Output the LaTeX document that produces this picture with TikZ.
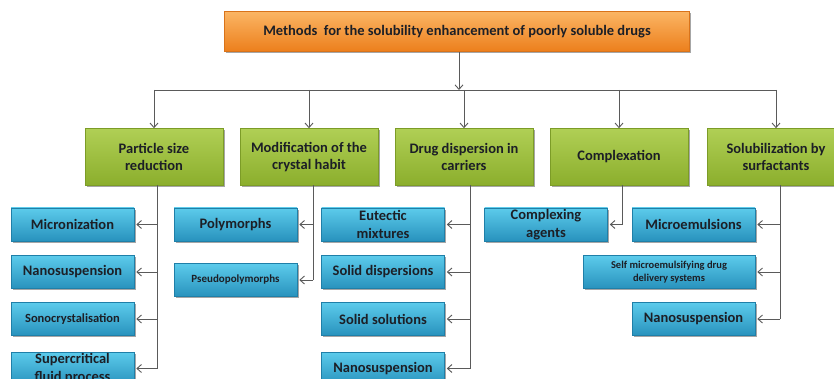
\documentclass[tikz,border=0pt]{standalone}
\usepackage{fontspec}
\setmainfont{Carlito}
\usetikzlibrary{shadows,arrows.meta}

\definecolor{orangetop}{HTML}{FBB564}
\definecolor{orangebot}{HTML}{EC7F1C}
\definecolor{orangeedge}{HTML}{D9731A}
\definecolor{greentop}{HTML}{B0CF55}
\definecolor{greenbot}{HTML}{8BAE2C}
\definecolor{greenedge}{HTML}{7C9C27}
\definecolor{bluetop}{HTML}{5CCBEB}
\definecolor{bluebot}{HTML}{2892BD}
\definecolor{blueedge}{HTML}{1F7FA8}
\definecolor{inkc}{HTML}{1C1F26}
\definecolor{linec}{HTML}{5A5A5A}

\tikzset{
  boxbase/.style={rectangle, align=center, text=inkc, line width=0.6pt,
    font=\bfseries\fontsize{14.5}{17.5}\selectfont,
    drop shadow={shadow xshift=1.6pt, shadow yshift=-1.8pt, fill=black, opacity=0.35}},
  rootbox/.style={boxbase, draw=orangeedge, top color=orangetop, bottom color=orangebot,
    minimum width=465pt, minimum height=40pt},
  methodbox/.style={boxbase, draw=greenedge, top color=greentop, bottom color=greenbot,
    minimum width=138pt, minimum height=57pt, inner sep=1pt},
  itembox/.style={boxbase, draw=blueedge, top color=bluetop, bottom color=bluebot,
    minimum width=123pt, minimum height=33pt, inner sep=1pt},
  link/.style={draw=linec, line width=0.9pt},
  linkarrow/.style={link, -{Straight Barb[length=4.5pt, width=8pt, line width=0.9pt]}},
}

\begin{document}
\begin{tikzpicture}[x=1pt, y=-1pt]
\useasboundingbox[fill=white] (0,0) rectangle (834,379);

% root
\node[rootbox] (root) at (457,31.5) {Methods \ for the solubility enhancement of poorly soluble drugs};

% method categories
\node[methodbox] (m1) at (154,157) {Particle size\\reduction};
\node[methodbox] (m2) at (309,157) {Modification of the\\crystal habit};
\node[methodbox] (m3) at (464,157) {Drug dispersion in\\carriers};
\node[methodbox] (m4) at (619,157) {Complexation};
\node[methodbox] (m5) at (776,157) {Solubilization by\\surfactants};

% particle size reduction
\node[itembox] (a1) at (72.5,224.5) {Micronization};
\node[itembox] (a2) at (72.5,272) {Nanosuspension};
\node[itembox, font=\bfseries\fontsize{12.5}{15}\selectfont] (a3) at (72.5,319) {Sonocrystalisation};
\node[itembox] (a4) at (72.5,368.5) {Supercritical\\fluid process};

% crystal habit
\node[itembox] (b1) at (235.5,224.5) {Polymorphs};
\node[itembox, font=\bfseries\fontsize{11}{13}\selectfont] (b2) at (235.5,280) {Pseudopolymorphs};

% carriers
\node[itembox] (c1) at (383,224.5) {Eutectic\\mixtures};
\node[itembox] (c2) at (383,272) {Solid dispersions};
\node[itembox] (c3) at (383,319) {Solid solutions};
\node[itembox] (c4) at (383,368.5) {Nanosuspension};

% complexation
\node[itembox] (d1) at (546,224.5) {Complexing\\agents};

% surfactants
\node[itembox] (e1) at (693.5,224.5) {Microemulsions};
\node[itembox, minimum width=172pt, font=\bfseries\fontsize{10.5}{13}\selectfont] (e2) at (669,272) {Self microemulsifying drug\\delivery systems};
\node[itembox] (e3) at (693.5,319) {Nanosuspension};

% distribution bus
\coordinate (bus) at (459,90);
\draw[linkarrow] (root.south -| bus) -- (bus);
\draw[link] (m1.north |- bus) -- (m5.north |- bus);
\foreach \m in {m1,m2,m3,m4,m5}
  \draw[linkarrow] (\m.north |- bus) -- (\m.north);

% spines below each category
\coordinate (s1) at (157,185.5);
\coordinate (s2) at (313,185.5);
\coordinate (s3) at (470,185.5);
\coordinate (s4) at (622,185.5);
\coordinate (s5) at (780,185.5);

\draw[link] (s1) -- (s1 |- a4.east);
\foreach \n in {a1,a2,a3,a4}
  \draw[linkarrow, shorten >=2pt] (s1 |- \n.east) -- (\n.east);

\draw[link] (s2) -- (s2 |- b2.east);
\foreach \n in {b1,b2}
  \draw[linkarrow, shorten >=2pt] (s2 |- \n.east) -- (\n.east);

\draw[link] (s3) -- (s3 |- c4.east);
\foreach \n in {c1,c2,c3,c4}
  \draw[linkarrow, shorten >=2pt] (s3 |- \n.east) -- (\n.east);

\draw[link] (s4) -- (s4 |- d1.east);
\draw[linkarrow, shorten >=2pt] (s4 |- d1.east) -- (d1.east);

\draw[link] (s5) -- (s5 |- e3.east);
\foreach \n in {e1,e2,e3}
  \draw[linkarrow, shorten >=2pt] (s5 |- \n.east) -- (\n.east);
\end{tikzpicture}
\end{document}
